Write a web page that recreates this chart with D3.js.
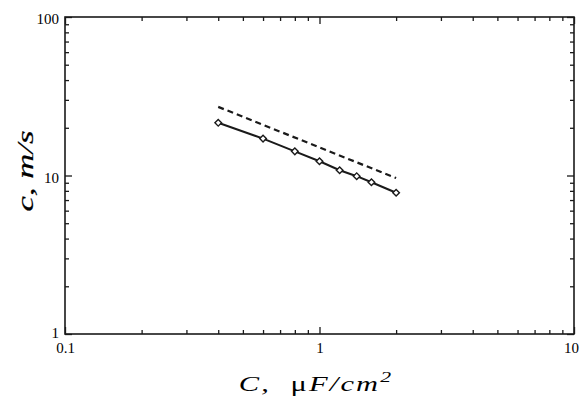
<!DOCTYPE html>
<html>
<head>
<meta charset="utf-8">
<script src="https://cdn.jsdelivr.net/npm/d3@7"></script>
<style>
  html, body { margin: 0; padding: 0; background: #fff; }
  svg { display: block; }
</style>
</head>
<body>
<svg id="chart" width="580" height="401"></svg>
<script>
// ---- data ----
const capX = [0.4, 0.6, 0.8, 1.0, 1.2, 1.4, 1.6, 2.0];
const speedY = [21.5, 17.1, 14.2, 12.3, 10.8, 9.9, 9.07, 7.78];
const dashedX = [0.4, 2.0];
const dashedY = [27.1, 9.63];
const xMajorTicks = [0.1, 1, 10];
const yMajorTicks = [1, 10, 100];
const xTickLabels = ["0.1", "1", "10"];
const yTickLabels = ["1", "10", "100"];

// ---- layout ----
const svg = d3.select("#chart");
const L = 65, R = 574, T = 17, B = 334;
const x = d3.scaleLog().domain([0.1, 10]).range([L, R]);
const y = d3.scaleLog().domain([1, 100]).range([B, T]);

const minor = (lo, hi) => {
  const out = [];
  for (let d = lo; d < hi; d *= 10) for (let k = 2; k <= 9; k++) out.push(d * k);
  return out;
};
const xMinor = minor(0.1, 10);
const yMinor = minor(1, 100);

const ink = "#1a1a1a";
const serif = "'Liberation Serif', 'Times New Roman', serif";

function styleAxis(g) {
  g.attr("font-family", serif).attr("font-size", 15);
  g.select(".domain").remove();
  g.selectAll(".tick line").attr("stroke", ink).attr("stroke-width", 1.3);
  g.selectAll(".tick text").attr("fill", "#000");
}

// bottom
const gb = svg.append("g").attr("transform", `translate(0,${B})`)
  .call(d3.axisBottom(x).tickValues(xMajorTicks).tickFormat((d, i) => xTickLabels[i]).tickSize(-7).tickPadding(8))
  .call(styleAxis);
gb.selectAll(".tick text").filter(d => d === 10).attr("dx", -3);
svg.append("g").attr("transform", `translate(0,${B})`)
  .call(d3.axisBottom(x).tickValues(xMinor).tickFormat("").tickSize(-4))
  .call(styleAxis);
// top
svg.append("g").attr("transform", `translate(0,${T})`)
  .call(d3.axisTop(x).tickValues(xMajorTicks).tickFormat("").tickSize(-7))
  .call(styleAxis);
svg.append("g").attr("transform", `translate(0,${T})`)
  .call(d3.axisTop(x).tickValues(xMinor).tickFormat("").tickSize(-4))
  .call(styleAxis);
// left
const gl = svg.append("g").attr("transform", `translate(${L},0)`)
  .call(d3.axisLeft(y).tickValues(yMajorTicks).tickFormat((d, i) => yTickLabels[i]).tickSize(-7).tickPadding(6))
  .call(styleAxis);
gl.selectAll(".tick text").attr("dy", d => d === 1 ? "0.2em" : "0.45em");
svg.append("g").attr("transform", `translate(${L},0)`)
  .call(d3.axisLeft(y).tickValues(yMinor).tickFormat("").tickSize(-4))
  .call(styleAxis);
// right
svg.append("g").attr("transform", `translate(${R},0)`)
  .call(d3.axisRight(y).tickValues(yMajorTicks).tickFormat("").tickSize(-7))
  .call(styleAxis);
svg.append("g").attr("transform", `translate(${R},0)`)
  .call(d3.axisRight(y).tickValues(yMinor).tickFormat("").tickSize(-4))
  .call(styleAxis);

// frame
svg.append("rect").attr("x", L).attr("y", T).attr("width", R - L).attr("height", B - T)
  .attr("fill", "none").attr("stroke", ink).attr("stroke-width", 1.6);

// dashed line
const line = d3.line().x(d => x(d[0])).y(d => y(d[1]));
svg.append("path").datum(dashedX.map((v, i) => [v, dashedY[i]]))
  .attr("d", line).attr("fill", "none").attr("stroke", ink)
  .attr("stroke-width", 2.2).attr("stroke-dasharray", "6,4");

// solid line
const pts = capX.map((v, i) => [v, speedY[i]]);
svg.append("path").datum(pts).attr("d", line).attr("fill", "none")
  .attr("stroke", ink).attr("stroke-width", 2);

// diamonds
svg.append("g").selectAll("path").data(pts).join("path")
  .attr("d", d3.symbol(d3.symbolSquare, 22)())
  .attr("transform", d => `translate(${x(d[0])},${y(d[1])}) rotate(45)`)
  .attr("fill", "#fff").attr("stroke", ink).attr("stroke-width", 1.4);

// axis titles
const xt = svg.append("text").attr("transform", "translate(316,391) scale(1.45,1)")
  .attr("text-anchor", "middle")
  .style("font-family", serif).style("font-size", "21px").style("letter-spacing", "1.5px")
  .attr("fill", "#000");
xt.append("tspan").style("font-style", "italic").text("C,");
xt.append("tspan").text("\u00a0\u00a0\u03bc");
xt.append("tspan").style("font-style", "italic").text("F/cm");
xt.append("tspan").style("font-style", "italic").style("font-size", "15px").attr("dy", -9).text("2");

svg.append("text").attr("transform", "translate(33,171) rotate(-90) scale(1.45,1)")
  .attr("text-anchor", "middle")
  .style("font-family", serif).style("font-size", "24px").style("font-style", "italic")
  .attr("fill", "#000").attr("stroke", "#000").attr("stroke-width", 0.2)
  .text("c, m/s");
</script>
</body>
</html>
